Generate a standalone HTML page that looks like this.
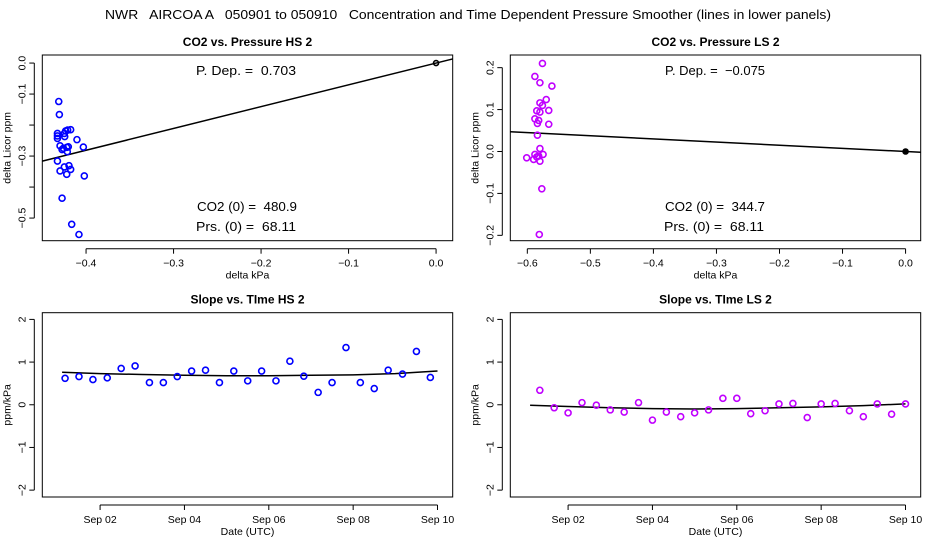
<!DOCTYPE html>
<html><head><meta charset="utf-8"><style>
body{margin:0;background:#fff;}
svg{display:block;font-family:"Liberation Sans",sans-serif;}
</style></head><body>
<svg id="chart" width="936" height="540" viewBox="0 0 936 540" xmlns="http://www.w3.org/2000/svg">
<rect width="936" height="540" fill="#fff"/>
<text x="468" y="19" text-anchor="middle" font-size="12.5" textLength="726" lengthAdjust="spacingAndGlyphs" xml:space="preserve">NWR   AIRCOA A   050901 to 050910   Concentration and Time Dependent Pressure Smoother (lines in lower panels)</text>
</svg>
<script>
// ---- data: HS scatter
const hsX=[-0.4312,-0.4305,-0.4327,-0.4327,-0.4327,-0.4248,-0.4233,-0.4210,-0.4176,-0.4244,-0.4104,-0.4297,-0.4259,-0.4221,-0.4203,-0.4274,-0.4214,-0.4031,-0.4327,-0.4297,-0.4248,-0.4221,-0.4195,-0.4176,-0.4020,-0.4274,-0.4164,-0.4081];
const hsY=[-0.124,-0.166,-0.227,-0.235,-0.243,-0.227,-0.219,-0.216,-0.215,-0.237,-0.247,-0.267,-0.275,-0.272,-0.270,-0.279,-0.286,-0.271,-0.316,-0.348,-0.335,-0.359,-0.331,-0.343,-0.364,-0.436,-0.520,-0.553];
const hsSlope=0.703;
// ---- LS scatter
const lsX=[-0.576,-0.588,-0.580,-0.561,-0.570,-0.580,-0.576,-0.585,-0.566,-0.580,-0.588,-0.582,-0.584,-0.566,-0.584,-0.580,-0.588,-0.582,-0.575,-0.601,-0.590,-0.580,-0.585,-0.577,-0.581];
const lsY=[0.210,0.179,0.164,0.156,0.124,0.116,0.110,0.097,0.098,0.094,0.078,0.074,0.067,0.065,0.039,0.007,-0.007,-0.011,-0.007,-0.015,-0.019,-0.023,-0.013,-0.089,-0.198];
const lsSlope=-0.075;
// ---- time series (day of September)
const hsT=[1.17,1.50,1.83,2.17,2.50,2.83,3.17,3.50,3.83,4.17,4.50,4.83,5.17,5.50,5.83,6.17,6.50,6.83,7.17,7.50,7.83,8.17,8.50,8.83,9.17,9.50,9.83];
const hsSlopes=[0.62,0.66,0.59,0.63,0.85,0.91,0.52,0.52,0.66,0.79,0.81,0.52,0.79,0.56,0.79,0.56,1.02,0.67,0.29,0.52,1.34,0.52,0.38,0.81,0.72,1.25,0.64];
const smT=[1.1,2,3,4,5,6,7,8,9,10];
const hsSmooth=[0.76,0.73,0.71,0.69,0.68,0.68,0.69,0.70,0.73,0.79];
const lsT=[1.33,1.67,2.00,2.33,2.67,3.00,3.33,3.67,4.00,4.33,4.67,5.00,5.33,5.67,6.00,6.33,6.67,7.00,7.33,7.67,8.00,8.33,8.67,9.00,9.33,9.67,10.00];
const lsSlopes=[0.34,-0.07,-0.19,0.05,-0.01,-0.12,-0.17,0.05,-0.36,-0.17,-0.28,-0.19,-0.12,0.15,0.15,-0.21,-0.14,0.02,0.03,-0.30,0.02,0.03,-0.14,-0.28,0.02,-0.22,0.02];
const lsSmooth=[-0.01,-0.04,-0.07,-0.09,-0.10,-0.09,-0.07,-0.05,-0.02,0.02];
const xTicksHS=[-0.4,-0.3,-0.2,-0.1,0.0];
const xTicksLS=[-0.6,-0.5,-0.4,-0.3,-0.2,-0.1,0.0];
const yTicksHS=[0.0,-0.1,-0.2,-0.3,-0.4,-0.5];
const yLabHS=["0.0","\u22120.1","","\u22120.3","","\u22120.5"];
const yTicksLS=[0.2,0.1,0.0,-0.1,-0.2];
const yLabLS=["0.2","0.1","0.0","\u22120.1","\u22120.2"];
const dateTicks=[2,4,6,8,10];
const dateLabs=["Sep 02","Sep 04","Sep 06","Sep 08","Sep 10"];
const slopeTicks=[2,1,0,-1,-2];
const slopeLabs=["2","1","0","\u22121","\u22122"];

const NS="http://www.w3.org/2000/svg";
const svg=document.getElementById('chart');
function mk(tag,attrs,parent,text){const e=document.createElementNS(NS,tag);for(const k in attrs)e.setAttribute(k,attrs[k]);if(text!==undefined)e.textContent=text;(parent||svg).appendChild(e);return e;}
function fmt(v){return v<0?"\u2212"+Math.abs(v).toFixed(1):v.toFixed(1);}

function panel(o){
  const g=mk('g',{});
  
  
  const L=o.box[0],R=o.box[1],T=o.box[2],B=o.box[3];
  const sx=v=>L+(v-o.xd[0])/(o.xd[1]-o.xd[0])*(R-L);
  const sy=v=>B-(v-o.yd[0])/(o.yd[1]-o.yd[0])*(B-T);
  const t=mk('text',{x:(L+R)/2,y:T-9,'text-anchor':'middle','font-size':12,'font-weight':'bold'},g,o.title);
  
  
  const fr=mk('rect',{x:L,y:T,width:R-L,height:B-T,fill:'none',stroke:'#000','stroke-width':1},g);
  
  
  const xa=mk('g',{},g);
  
  
  const xs=o.xt.map(sx);
  mk('line',{x1:xs[0],x2:xs[xs.length-1],y1:B+8,y2:B+8,stroke:'#000'},xa);
  o.xt.forEach((v,i)=>{const x=sx(v);mk('line',{x1:x,x2:x,y1:B+8,y2:B+13,stroke:'#000'},xa);
    const tl=mk('text',{x:x,y:B+26,'text-anchor':'middle','font-size':10.5},xa,o.xl[i]);
    
    });
  const xt=mk('text',{x:(L+R)/2,y:B+38,'text-anchor':'middle','font-size':10.5},g,o.xlab);
  
  
  const ya=mk('g',{},g);
  
  
  const ys=o.yt.map(sy);
  mk('line',{x1:L-8,x2:L-8,y1:ys[0],y2:ys[ys.length-1],stroke:'#000'},ya);
  o.yt.forEach((v,i)=>{const y=sy(v);mk('line',{x1:L-13,x2:L-8,y1:y,y2:y,stroke:'#000'},ya);
    if(o.yl[i]){const tl=mk('text',{x:0,y:0,'text-anchor':'middle','font-size':10.5,transform:`translate(${L-17},${y}) rotate(-90)`},ya,o.yl[i]);
    
    }});
  const yt=mk('text',{x:0,y:0,'text-anchor':'middle','font-size':10.5,transform:`translate(${L-32},${(T+B)/2}) rotate(-90)`},g,o.ylab);
  
  
  return {g,sx,sy,L,R,T,B};
}
function clipId(p,id){const c=mk('clipPath',{id:id});mk('rect',{x:p.L,y:p.T,width:p.R-p.L,height:p.B-p.T},c);return `url(#${id})`;}
function annot(g,txt,x,y){const t=mk('text',{x:x,y:y,'text-anchor':'middle','font-size':13,textLength:100,lengthAdjust:'spacingAndGlyphs'},g,txt);
  
  }

let p=panel({name:'hs-pressure-panel',title:'CO2 vs. Pressure HS 2',box:[42.3,452.7,55,240.7],xd:[-0.45,0.019],yd:[-0.573,0.026],xt:xTicksHS,xl:xTicksHS.map(fmt),yt:yTicksHS,yl:yLabHS,xlab:'delta kPa',ylab:'delta Licor ppm'});
let ln=mk('line',{x1:p.L,y1:p.sy(hsSlope*-0.45),x2:p.R,y2:p.sy(hsSlope*0.019),stroke:'#000','stroke-width':1.5,'clip-path':clipId(p,'c1')},p.g);


hsX.forEach((x,i)=>{const c=mk('circle',{cx:p.sx(x),cy:p.sy(hsY[i]),r:3,fill:'none',stroke:'#0000ff','stroke-width':1.6},p.g);
  
  });
let o=mk('circle',{cx:p.sx(0),cy:p.sy(0),r:2.5,fill:'none',stroke:'#000','stroke-width':1.6},p.g);


annot(p.g,'P. Dep. =\u00a0\u00a00.703',246,75);
annot(p.g,'CO2 (0) =\u00a0\u00a0480.9',247,211);
annot(p.g,'Prs. (0) =\u00a0\u00a068.11',246,231);

p=panel({name:'ls-pressure-panel',title:'CO2 vs. Pressure LS 2',box:[510.3,920.7,55,240.7],xd:[-0.627,0.024],yd:[-0.2128,0.2302],xt:xTicksLS,xl:xTicksLS.map(fmt),yt:yTicksLS,yl:yLabLS,xlab:'delta kPa',ylab:'delta Licor ppm'});
ln=mk('line',{x1:p.L,y1:p.sy(lsSlope*-0.627),x2:p.R,y2:p.sy(lsSlope*0.024),stroke:'#000','stroke-width':1.5},p.g);


lsX.forEach((x,i)=>{const c=mk('circle',{cx:p.sx(x),cy:p.sy(lsY[i]),r:3,fill:'none',stroke:'#c000ff','stroke-width':1.6},p.g);
  
  });
o=mk('circle',{cx:p.sx(0),cy:p.sy(0),r:2.8,fill:'#000',stroke:'#000'},p.g);


annot(p.g,'P. Dep. =\u00a0\u00a0\u22120.075',715,75);
annot(p.g,'CO2 (0) =\u00a0\u00a0344.7',715,211);
annot(p.g,'Prs. (0) =\u00a0\u00a068.11',714,231);

function timePanel(name,title,L,R,T,vals,sm,col,ptName){
  const q=panel({name:name,title:title,box:[L,R,312.7,497],xd:[0.63,10.36],yd:[-2.161,2.157],xt:dateTicks,xl:dateLabs,yt:slopeTicks,yl:slopeLabs,xlab:'Date (UTC)',ylab:'ppm/kPa'});
  const d=smT.map((t,i)=>(i?'L':'M')+q.sx(t).toFixed(1)+','+q.sy(sm[i]).toFixed(1)).join(' ');
  const l=mk('path',{d:d,fill:'none',stroke:'#000','stroke-width':1.5},q.g);
  
  
  T.forEach((t,i)=>{const c=mk('circle',{cx:q.sx(t),cy:q.sy(vals[i]),r:3,fill:'none',stroke:col,'stroke-width':1.6},q.g);
    
    });
}
timePanel('hs-slope-panel','Slope vs. TIme HS 2',42.3,452.7,hsT,hsSlopes,hsSmooth,'#0000ff','hs-slope-point');
timePanel('ls-slope-panel','Slope vs. TIme LS 2',510.3,920.7,lsT,lsSlopes,lsSmooth,'#c000ff','ls-slope-point');
</script>
</body></html>
